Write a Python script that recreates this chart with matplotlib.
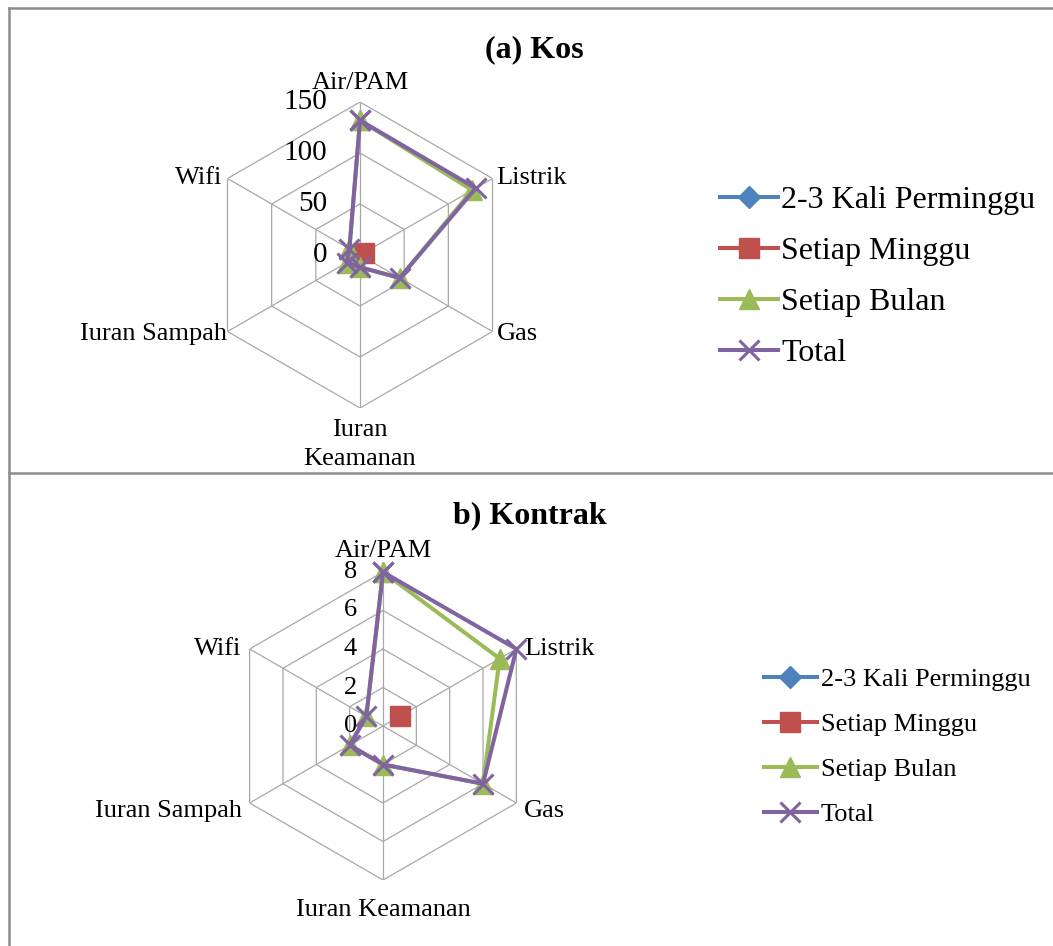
import numpy as np
import matplotlib
matplotlib.use('Agg')
import matplotlib.pyplot as plt
from matplotlib.lines import Line2D
from matplotlib.transforms import offset_copy

plt.rcParams['font.family'] = ['Liberation Serif', 'DejaVu Serif']

categories = ['Air/PAM', 'Listrik', 'Gas', 'Iuran Keamanan', 'Iuran Sampah', 'Wifi']
series_names = ['2-3 Kali Perminggu', 'Setiap Minggu', 'Setiap Bulan', 'Total']
nan = np.nan

# (a) Kos  (nan = empty cell)
kos_kali = [nan, nan, nan, nan, nan, nan]
kos_minggu = [nan, 4, nan, nan, nan, nan]
kos_bulan = [132, 127, 45, 12, 15, 12]
kos_total = [132, 131, 45, 12, 15, 12]
kos_ticks = [0, 50, 100, 150]

# b) Kontrak
kontrak_kali = [nan, nan, nan, nan, nan, nan]
kontrak_minggu = [nan, 1, nan, nan, nan, nan]
kontrak_bulan = [8, 7, 6, 2, 2, 1]
kontrak_total = [8, 8, 6, 2, 2, 1]
kontrak_ticks = [0, 2, 4, 6, 8]

colors = ['#4F81BD', '#C0504D', '#9BBB59', '#8064A2']
markers = ['D', 's', '^', 'x']
msizes = [11, 15, 14, 14]
grid_color = '#a8a8a8'

W, H = 1053, 946
fig = plt.figure(figsize=(W / 100, H / 100), dpi=100)

# panel frames (Excel chart borders)
frame = dict(color='#8c8c8c', lw=1.8, transform=fig.transFigure)
fig.add_artist(Line2D([9 / W, 9 / W], [0, 1 - 8 / H], **frame))
fig.add_artist(Line2D([9 / W, 1], [1 - 8 / H, 1 - 8 / H], **frame))
fig.add_artist(Line2D([9 / W, 1], [1 - 473 / H, 1 - 473 / H], **frame))

angles = np.deg2rad(np.arange(0, 360, 60))


def radar(cx, cy, rad, series, ticks, labels, lab_off, tick_size, lab_size,
          tick_dx):
    ax = fig.add_axes([(cx - rad) / W, 1 - (cy + rad) / H, 2 * rad / W, 2 * rad / H],
                      projection='polar')
    ax.set_theta_zero_location('N')
    ax.set_theta_direction(-1)
    rmax = ticks[-1]
    ax.set_ylim(0, rmax)
    ax.grid(False)
    ax.spines['polar'].set_visible(False)
    ax.set_xticks([])
    ax.set_yticks([])
    ax.patch.set_visible(False)

    closed = np.append(angles, angles[0])
    for t in ticks[1:]:
        ax.plot(closed, [t] * 7, color=grid_color, lw=0.9, zorder=1)
    for a in angles:
        ax.plot([a, a], [0, rmax], color=grid_color, lw=0.9, zorder=1)

    for i, vals in enumerate(series):
        v = np.append(vals, vals[0])
        ax.plot(closed, v, color=colors[i], lw=2.9, marker=markers[i],
                markersize=msizes[i], mew=2.2 if markers[i] == 'x' else 1,
                mec=colors[i], label=series_names[i], zorder=3 + i,
                clip_on=False)

    for t in ticks:
        tr = offset_copy(ax.transData, fig=fig, x=tick_dx, y=0, units='dots')
        ax.text(0, t, str(t), transform=tr, ha='right', va='center',
                fontsize=tick_size)

    for a, lab, (dx, dy, ha, va) in zip(angles, labels, lab_off):
        tr = offset_copy(ax.transData, fig=fig, x=dx, y=dy, units='dots')
        ax.text(a, rmax, lab, transform=tr, ha=ha, va=va, fontsize=lab_size,
                multialignment='center', linespacing=1.4)
    return ax


kos_labels = ['Air/PAM', 'Listrik', 'Gas', 'Iuran\nKeamanan', 'Iuran Sampah', 'Wifi']
kos_off = [(0, 8, 'center', 'bottom'), (4, 0, 'left', 'center'),
           (4, -2, 'left', 'center'), (0, -11, 'center', 'top'),
           (0, -2, 'right', 'center'), (-5, 0, 'right', 'center')]
ax1 = radar(360, 255, 153, [kos_kali, kos_minggu, kos_bulan, kos_total],
            kos_ticks, kos_labels, kos_off, 21, 19, -33)

kon_off = [(0, 10, 'center', 'bottom'), (8, 0, 'left', 'center'),
           (8, -8, 'left', 'center'), (0, -19, 'center', 'top'),
           (-8, -8, 'right', 'center'), (-8, 0, 'right', 'center')]
ax2 = radar(383, 726, 154, [kontrak_kali, kontrak_minggu, kontrak_bulan, kontrak_total],
            kontrak_ticks, categories, kon_off, 19, 19, -26)

fig.text(534 / W, 1 - 50 / H, '(a) Kos', ha='center', va='center',
         fontsize=23, fontweight='bold')
fig.text(530 / W, 1 - 516 / H, 'b) Kontrak', ha='center', va='center',
         fontsize=23, fontweight='bold')

h1, l1 = ax1.get_legend_handles_labels()
fig.legend(h1, l1, loc='center left', bbox_to_anchor=(720 / W, 1 - 277 / H),
           frameon=False, fontsize=23, handlelength=1.8, handletextpad=0.12,
           labelspacing=0.68, borderpad=0, borderaxespad=0, numpoints=1)
h2, l2 = ax2.get_legend_handles_labels()
fig.legend(h2, l2, loc='center left', bbox_to_anchor=(764 / W, 1 - 747 / H),
           frameon=False, fontsize=19, handlelength=2.0, handletextpad=0.15,
           labelspacing=0.82, borderpad=0, borderaxespad=0, numpoints=1)

fig.savefig('out.png', dpi=100, facecolor='white')
